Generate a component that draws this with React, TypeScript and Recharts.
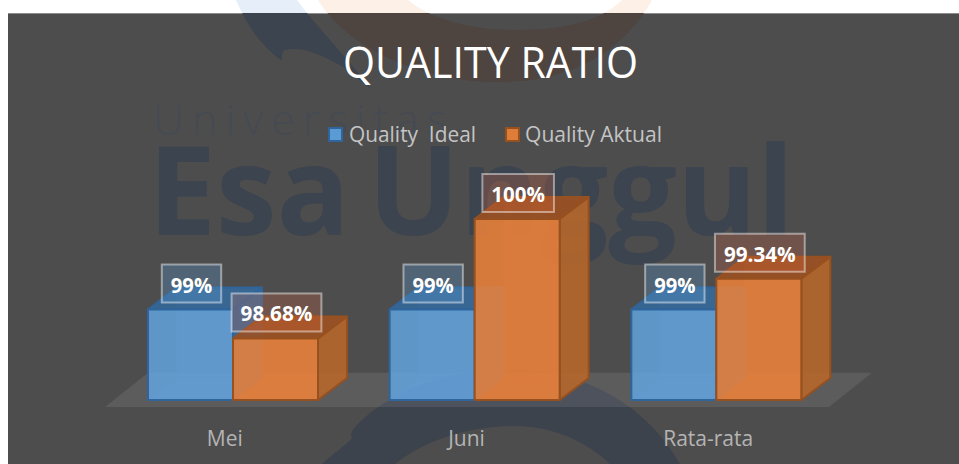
import { BarChart, Bar, XAxis, YAxis, Legend, LabelList, ReferenceArea } from "recharts";

const bulan = ["Mei", "Juni", "Rata-rata"];
const qualityIdeal = [99, 99, 99];
const qualityAktual = [98.68, 100, 99.34];

const chartData = bulan.map((b, i) => ({
  bulan: b,
  ideal: qualityIdeal[i],
  aktual: qualityAktual[i],
}));

const FONT = "'Open Sans', sans-serif";
const DX = 29;
const DY = 22;

const BLUE = {
  front: "rgba(99,163,222,0.85)",
  side: "rgba(52,106,158,0.85)",
  top: "rgba(52,106,158,0.85)",
  back: "rgba(96,156,214,0.12)",
  stroke: "#2f659a",
  legend: "#5b9bd5",
  labelBox: "rgba(91,155,213,0.3)",
};
const ORANGE = {
  front: "rgba(238,131,58,0.85)",
  side: "rgba(185,103,41,0.85)",
  top: "rgba(160,80,30,0.85)",
  back: "rgba(237,125,49,0.12)",
  stroke: "#97501f",
  legend: "#dd7d38",
  labelBox: "rgba(237,110,70,0.22)",
};

// logo in the background, not part of the data
const ARC_ORANGE = "M318 0 C345 45 420 84 505 82 C585 80 630 40 652 0 L622 0 C600 22 560 31 510 30 C465 29 430 18 408 0 Z";
const ARC_BLUE = "M236 0 C248 28 262 46 282 61 C281 56 282 52 285 50 C300 46 322 54 345 68 L372 90 C345 55 315 25 297 0 Z";
const ARC_BOTTOM = "M322 464 C335 452 345 446 352 438 C350 434 352 430 356 426 C390 390 450 369 515 369 C590 371 650 410 680 464 L610 464 C585 440 550 426 515 426 C470 426 425 440 395 464 Z";

function Bar3D({ x, y, width, height, colors }: any) {
  const r = x + width;
  const b = y + height;
  const sw = { stroke: colors.stroke, strokeWidth: 2, strokeLinejoin: "round" as const };
  const faint = { stroke: colors.stroke, strokeOpacity: 0.25, strokeWidth: 1 };
  return (
    <g>
      <rect x={x + DX} y={y - DY} width={width} height={height} fill={colors.back} {...faint} />
      <polygon points={`${x},${b} ${x + DX},${b - DY} ${r + DX},${b - DY} ${r},${b}`} fill={colors.back} {...faint} />
      <polygon points={`${r},${y} ${r + DX},${y - DY} ${r + DX},${b - DY} ${r},${b}`} fill={colors.side} {...sw} />
      <polygon points={`${x},${y} ${x + DX},${y - DY} ${r + DX},${y - DY} ${r},${y}`} fill={colors.top} {...sw} />
      <rect x={x} y={y} width={width} height={height} fill={colors.front} {...sw} />
    </g>
  );
}

// digit, dot and percent widths taken from the label boxes
function labelWidth(text: string) {
  let w = 0;
  for (const c of text) w += c === "%" ? 17 : c === "." ? 6 : 12.2;
  return w;
}

function ValueLabel({ x, y, width, value, colors }: any) {
  const text = `${value}%`;
  const tw = labelWidth(text);
  const boxW = tw + 18;
  const cx = x + width / 2 + 1;
  const cy = y - 26;
  return (
    <g>
      <rect
        x={cx - boxW / 2}
        y={cy - 19}
        width={boxW}
        height={38}
        fill={colors.labelBox}
        stroke="rgba(255,255,255,0.45)"
        strokeWidth={2}
      />
      <text
        x={cx - tw / 2}
        y={cy + 9}
        textLength={tw}
        lengthAdjust="spacingAndGlyphs"
        fontFamily={FONT}
        fontWeight={700}
        fontSize={22}
        fill="#ffffff"
      >
        {text}
      </text>
    </g>
  );
}

const legendPos = [
  { sq: 329, text: 349, len: 127 },
  { sq: 506, text: 525, len: 137 },
];

function ChartLegend({ payload }: any) {
  return (
    <svg width={959} height={40} style={{ position: "absolute", left: 0, top: 0, overflow: "visible" }}>
      {(payload || []).map((p: any, i: number) => (
        <g key={p.value}>
          <rect
            x={legendPos[i].sq}
            y={8}
            width={13}
            height={13}
            fill={i === 0 ? BLUE.legend : ORANGE.legend}
            stroke={i === 0 ? BLUE.stroke : ORANGE.stroke}
            strokeWidth={2}
          />
          <text
            x={legendPos[i].text}
            y={22}
            textLength={legendPos[i].len}
            lengthAdjust="spacingAndGlyphs"
            fontFamily={FONT}
            fontSize={21}
            fill="#c4c4c4"
            style={{ whiteSpace: "pre" }}
          >
            {p.value}
          </text>
        </g>
      ))}
    </svg>
  );
}

function Floor({ x, y, width, height }: any) {
  const b = y + height + 7;
  return (
    <polygon
      points={`${x - 7},${b} ${x + 36},${y} ${x + width + 35},${y} ${x + width - 8},${b}`}
      fill="rgba(255,245,245,0.09)"
    />
  );
}

function Background() {
  return (
    <svg width={959} height={464} style={{ position: "absolute", left: 0, top: 0 }}>
      <defs>
        <clipPath id="panel">
          <rect x={8} y={13} width={951} height={451} />
        </clipPath>
      </defs>
      <rect width={959} height={464} fill="#ffffff" />
      <path d={ARC_ORANGE} fill="#fdf0e6" />
      <path d={ARC_BLUE} fill="#e6eefa" />
      <rect x={8} y={13} width={951} height={451} fill="#4d4d4d" />
      <rect x={8} y={13} width={951} height={1} fill="#8c8c8c" />
      <g clipPath="url(#panel)">
        <path d={ARC_ORANGE} fill="#4e4440" />
        <path d={ARC_BLUE} fill="#3c444f" />
        <path d={ARC_BOTTOM} fill="#3c434d" />
        <text
          x={153}
          y={135}
          textLength={294}
          lengthAdjust="spacing"
          fontFamily={FONT}
          fontWeight={300}
          fontSize={43}
          fill="#454a53"
        >
          Universitas
        </text>
        <text
          x={148}
          y={235}
          textLength={646}
          lengthAdjust="spacingAndGlyphs"
          fontFamily={FONT}
          fontWeight={700}
          fontSize={123}
          wordSpacing={-14}
          fill="#3c444f"
        >
          Esa Unggul
        </text>
      </g>
      <text
        x={343}
        y={78}
        textLength={295}
        lengthAdjust="spacingAndGlyphs"
        fontFamily={FONT}
        fontSize={43}
        fill="#ffffff"
      >
        QUALITY RATIO
      </text>
    </svg>
  );
}

export default function App() {
  return (
    <div style={{ position: "absolute", left: 0, top: 0, width: 959, height: 464, overflow: "hidden" }}>
      <Background />
      <div style={{ position: "absolute", left: 0, top: 0 }}>
        <BarChart
          width={959}
          height={464}
          data={chartData}
          margin={{ top: 219, right: 122, bottom: 0, left: 112 }}
          barGap={0}
          barSize={85}
        >
          <XAxis
            dataKey="bulan"
            axisLine={false}
            tickLine={false}
            tickMargin={25}
            height={64}
            tick={{ fill: "#b4b4b4", fontSize: 21, fontFamily: FONT, dx: -8 }}
          />
          <YAxis hide domain={[98, 100]} />
          <ReferenceArea y1={98} y2={98.3} ifOverflow="visible" shape={<Floor />} />
          <Legend
            verticalAlign="top"
            content={<ChartLegend />}
            wrapperStyle={{ position: "absolute", left: 0, top: 120, width: 959, height: 0 }}
          />
          <Bar
            dataKey="ideal"
            name="Quality  Ideal"
            isAnimationActive={false}
            fill={BLUE.legend}
            shape={<Bar3D colors={BLUE} />}
          >
            <LabelList dataKey="ideal" content={<ValueLabel colors={BLUE} />} />
          </Bar>
          <Bar
            dataKey="aktual"
            name="Quality Aktual"
            isAnimationActive={false}
            fill={ORANGE.legend}
            shape={<Bar3D colors={ORANGE} />}
          >
            <LabelList dataKey="aktual" content={<ValueLabel colors={ORANGE} />} />
          </Bar>
        </BarChart>
      </div>
    </div>
  );
}
